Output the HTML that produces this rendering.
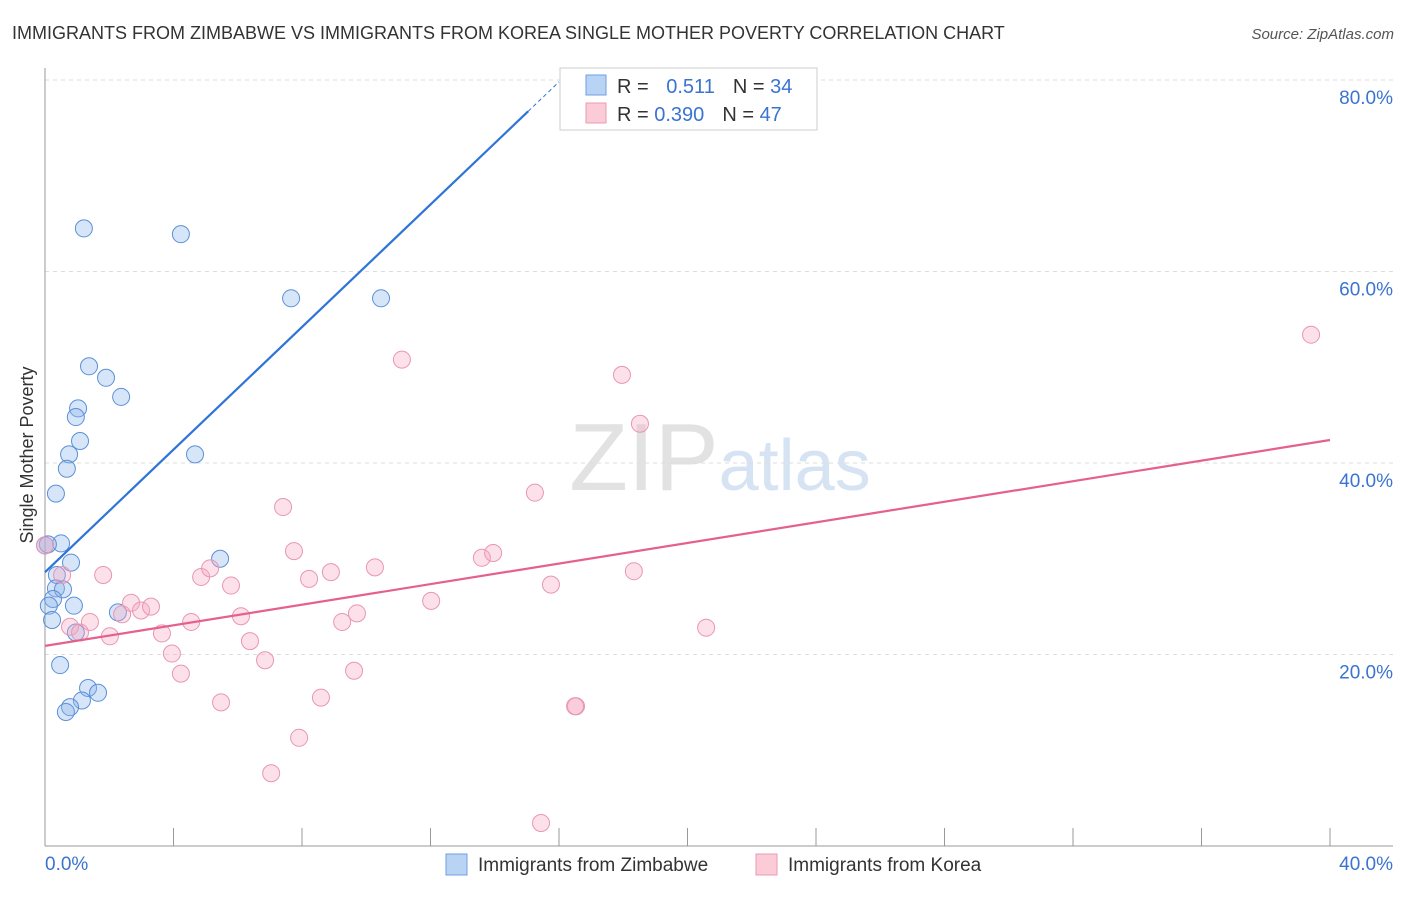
<!DOCTYPE html>
<html><head><meta charset="utf-8"><style>
body{margin:0;background:#fff;font-family:"Liberation Sans",sans-serif}
svg text{font-family:"Liberation Sans",sans-serif}
</style></head><body>
<svg id="c" width="1406" height="892">
<text x="12" y="39" font-size="18" fill="#333">IMMIGRANTS FROM ZIMBABWE VS IMMIGRANTS FROM KOREA SINGLE MOTHER POVERTY CORRELATION CHART</text>
<text x="1394" y="39" font-size="15" fill="#555" font-style="italic" text-anchor="end">Source: ZipAtlas.com</text>
<text x="720" y="490" font-size="96" fill="#ddd" text-anchor="middle" font-family="Liberation Serif"><tspan fill="#e2e2e2">ZIP</tspan><tspan fill="#d6e3f3" font-family="Liberation Sans" font-size="72">atlas</tspan></text>
<g id="grid"></g><g id="axes"></g><g id="pts"></g><g id="lines"></g>
<text x="33" y="455" font-size="18" fill="#333" text-anchor="middle" transform="rotate(-90 33 455)">Single Mother Poverty</text>
<g>
<rect x="560" y="68" width="257" height="62" fill="#fff" stroke="#ccc"/>
<rect x="586" y="75" width="20" height="20" fill="#b9d3f5" stroke="#6f9fe0"/>
<rect x="586" y="103" width="20" height="20" fill="#fbcbd8" stroke="#eb9ab3"/>
<text x="617" y="93" font-size="20" fill="#333">R = <tspan fill="#3a74d0" dx="12">0.511</tspan><tspan dx="18" fill="#333">N = </tspan><tspan fill="#3a74d0">34</tspan></text>
<text x="617" y="121" font-size="20" fill="#333">R = <tspan fill="#3a74d0">0.390</tspan><tspan dx="18" fill="#333">N = </tspan><tspan fill="#3a74d0">47</tspan></text>
</g>
<g>
<rect x="446" y="854" width="21" height="21" fill="#b9d3f5" stroke="#6f9fe0"/>
<text x="478" y="871" font-size="19" fill="#333">Immigrants from Zimbabwe</text>
<rect x="756" y="854" width="21" height="21" fill="#fbcbd8" stroke="#eb9ab3"/>
<text x="788" y="871" font-size="19" fill="#333">Immigrants from Korea</text>
</g>
<text x="45" y="870" font-size="19" fill="#3a74d0">0.0%</text>
<text x="1393" y="870" font-size="19" fill="#3a74d0" text-anchor="end">40.0%</text>
</svg>
<script>
const yTicks=[20,40,60,80];
const yTickLabels=["20.0%","40.0%","60.0%","80.0%"];
const xTicks=[0,4,8,12,16,20,24,28,32,36,40];
const zimX=[1.21,4.23,7.66,10.46,1.37,1.90,2.37,1.03,0.96,1.09,0.75,4.67,0.68,0.34,0.50,0.09,0.81,5.45,0.37,0.34,0.56,0.25,0.12,0.90,0.22,2.27,0.96,0.47,1.34,1.65,1.15,0.78,0.65,0.0];
const zimY=[64.5,63.9,57.2,57.2,50.1,48.9,46.9,45.7,44.8,42.3,40.9,40.9,39.4,36.8,31.6,31.5,29.6,30.0,28.3,26.9,26.8,25.8,25.1,25.1,23.6,24.4,22.3,18.9,16.5,16.0,15.2,14.5,14.0,31.4];
const korX=[0,0.53,1.81,0.78,1.09,1.40,2.02,2.40,2.68,2.99,3.30,3.64,3.95,4.23,4.55,4.86,5.14,5.48,5.79,6.10,6.38,6.85,7.04,7.41,7.75,7.91,8.22,8.59,8.90,9.25,9.62,9.71,10.27,11.11,12.02,13.60,13.95,15.25,15.44,15.75,16.53,16.50,17.96,18.33,18.52,20.58,39.41];
const korY=[31.4,28.3,28.3,22.9,22.3,23.4,21.9,24.2,25.4,24.6,25.0,22.2,20.1,18.0,23.4,28.1,29.0,15.0,27.2,24.0,21.4,19.4,7.6,35.4,30.8,11.3,27.9,15.5,28.6,23.4,18.3,24.3,29.1,50.8,25.6,30.1,30.6,36.9,2.4,27.3,14.6,14.6,49.2,28.7,44.1,22.8,53.4];
const zimTrend=[28.6,3.2]; // intercept, slope
const korTrend=[20.9,0.5375];
const sx=v=>45+v*32.125, sy=v=>846-v*9.575;
const NS="http://www.w3.org/2000/svg";
function mk(p,t,a){const e=document.createElementNS(NS,t);for(const k in a)e.setAttribute(k,a[k]);p.appendChild(e);return e;}
const grid=document.getElementById('grid'),axes=document.getElementById('axes'),pts=document.getElementById('pts'),lines=document.getElementById('lines');
yTicks.forEach((t,i)=>{
 const g=mk(grid,'line',{x1:45,x2:1393,y1:sy(t),y2:sy(t),stroke:'#ddd','stroke-dasharray':'4,4'});
 
 
 const l=mk(grid,'text',{x:1393,y:sy(t)+24,'font-size':19,fill:'#3a74d0','text-anchor':'end'});l.textContent=yTickLabels[i];
 
 
});
const ya=mk(axes,'line',{x1:45,x2:45,y1:68,y2:846,stroke:'#999'});


const xa=mk(axes,'line',{x1:45,x2:1393,y1:846,y2:846,stroke:'#999'});


xTicks.forEach(t=>{const k=mk(axes,'line',{x1:sx(t),x2:sx(t),y1:828,y2:846,stroke:'#999'});
 
 });
zimX.forEach((x,i)=>{const c=mk(pts,'circle',{cx:sx(x),cy:sy(zimY[i]),r:8.5,fill:'rgba(140,180,235,0.35)',stroke:'#5b90d8','stroke-width':1});
 
 });
korX.forEach((x,i)=>{const c=mk(pts,'circle',{cx:sx(x),cy:sy(korY[i]),r:8.5,fill:'rgba(245,170,195,0.35)',stroke:'#e996b1','stroke-width':1});
 
 });
const zEnd=15.04;
const l1=mk(lines,'line',{x1:sx(0),y1:sy(zimTrend[0]),x2:sx(zEnd),y2:sy(zimTrend[0]+zimTrend[1]*zEnd),stroke:'#2f74d6','stroke-width':2.2});


const l1d=mk(lines,'line',{x1:sx(zEnd),y1:sy(zimTrend[0]+zimTrend[1]*zEnd),x2:sx(16),y2:sy(zimTrend[0]+zimTrend[1]*16),stroke:'#2f74d6','stroke-width':1,'stroke-dasharray':'4,3'});


const l2=mk(lines,'line',{x1:sx(0),y1:sy(korTrend[0]),x2:sx(40),y2:sy(korTrend[0]+korTrend[1]*40),stroke:'#e5608e','stroke-width':2.2});


</script>
</body></html>
